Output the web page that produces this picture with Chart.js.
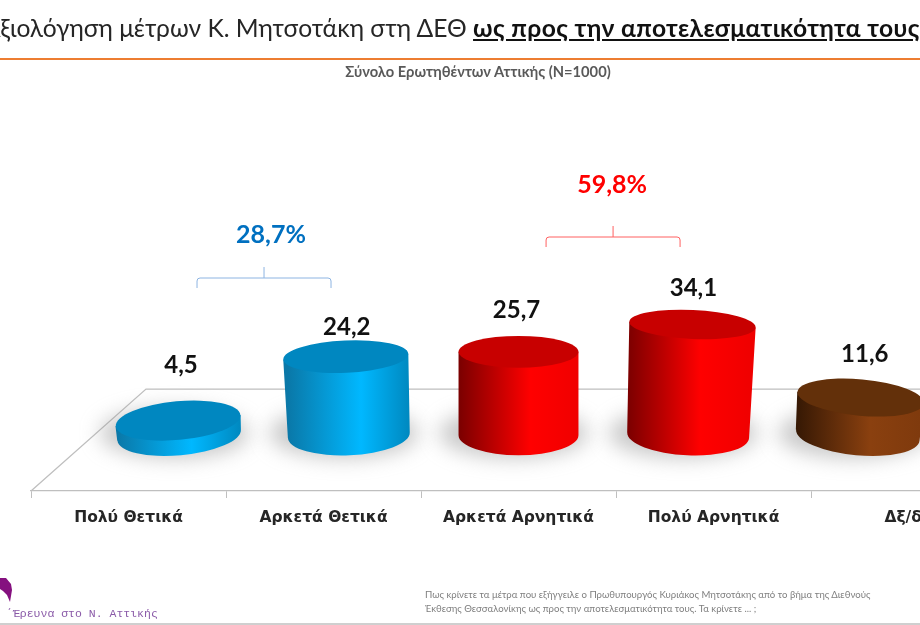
<!DOCTYPE html>
<html lang="el">
<head>
<meta charset="utf-8">
<style>
html,body{margin:0;padding:0;background:#fff;width:920px;height:625px;overflow:hidden}
#page{position:relative;width:920px;height:625px;overflow:hidden}
canvas{position:absolute;left:0;top:0}
.t{position:absolute;white-space:nowrap}
#title{left:-16px;top:13px;font:400 24.6px Lato,"Noto Sans",sans-serif;color:#262626}
#title b{font-weight:700;text-decoration:underline;color:#111;letter-spacing:.4px}
#rule{position:absolute;left:0;top:58px;width:920px;height:2px;background:#ed7d31}
#sub{left:0;width:956px;text-align:center;top:62px;font:700 14.7px Lato,"Noto Sans",sans-serif;color:#595959}
#foot{left:425px;top:588px;font:400 9.6px/13.5px Lato,"Noto Sans",sans-serif;color:#7f7f7f}
#brand{left:6px;top:607px;font:400 11.5px "Liberation Mono","DejaVu Sans Mono",monospace;color:#8a5aa8}
#base{position:absolute;left:0;top:623px;width:920px;height:2px;background:#cfcfcf}
#logo{position:absolute;left:0;top:576px}
</style>
</head>
<body>
<div id="page">
<canvas id="c" width="1040" height="625" style="width:1040px;height:625px"></canvas>
<div class="t" id="title">Αξιολόγηση μέτρων Κ. Μητσοτάκη στη ΔΕΘ <b>ως προς την αποτελεσματικότητα τους</b></div>
<div id="rule"></div>
<div class="t" id="sub">Σύνολο Ερωτηθέντων Αττικής (Ν=1000)</div>
<svg id="logo" width="14" height="28"><path d="M0 2 L6 2 L11 8 L12 14 L11 20 L10 26 L7 19 L3 15 L0 13 Z" fill="#85107f"/></svg>
<div class="t" id="brand">΄Έρευνα στο Ν. Αττικής</div>
<div class="t" id="foot">Πως κρίνετε τα μέτρα που εξήγγειλε ο Πρωθυπουργός Κυριάκος Μητσοτάκης από το βήμα της Διεθνούς<br>Έκθεσης Θεσσαλονίκης ως προς την αποτελεσματικότητα τους. Τα κρίνετε ... ;</div>
<div id="base"></div>
</div>
<script src="https://cdn.jsdelivr.net/npm/chart.js@4"></script>
<script>
const categories = ["Πολύ Θετικά","Αρκετά Θετικά","Αρκετά Αρνητικά","Πολύ Αρνητικά","Δξ/δα"];
const values = [4.5,24.2,25.7,34.1,11.6];
const valueLabels = ["4,5","24,2","25,7","34,1","11,6"];
const groupLabels = ["28,7%","59,8%"];

const sideColors = [
  ["#0a78a8","#00b8ff","#0088bf"],
  ["#0a78a8","#00b8ff","#0088bf"],
  ["#7a0000","#ff0000","#f00000"],
  ["#7a0000","#ff0000","#f00000"],
  ["#351804","#8a400f","#7f3a0d"]
];
const topColors = ["#0087c0","#0087c0","#c80000","#c80000","#63300a"];
const labelNudgeX = [2,0,-3,0,3];
const labelNudgeY = [-14,9,-4,0,-3];
const FOCUS = 0.87, BACK_VALUE = 14.2;

const cylinders = {
  id:"cylinders",
  beforeDatasetsDraw(chart){
    const {ctx,chartArea:a,scales:{x,y}} = chart;
    const back = y.getPixelForValue(BACK_VALUE);
    ctx.save();
    ctx.strokeStyle="#bfbfbf"; ctx.lineWidth=1.3;
    ctx.beginPath();
    ctx.moveTo(a.left,a.bottom); ctx.lineTo(a.left+115,back); ctx.lineTo(a.right,back);
    ctx.stroke();
    const meta = chart.getDatasetMeta(0), mid = x.getPixelForValue(2);
    ctx.filter="blur(10px)"; ctx.fillStyle="rgba(150,150,150,.52)";
    meta.data.forEach(el=>{
      const cx = mid+(el.x-mid)*FOCUS-5;
      ctx.beginPath(); ctx.ellipse(cx,el.base-2,el.width*0.62,25,0,0,Math.PI*2); ctx.fill();
    });
    ctx.restore();
  },
  afterDatasetsDraw(chart){
    const {ctx,scales:{x}} = chart;
    const meta = chart.getDatasetMeta(0), mid = x.getPixelForValue(2), step = x.getPixelForValue(1)-x.getPixelForValue(0);
    meta.data.forEach((el,i)=>{
      const dx = el.x-mid, h = el.base-el.y;
      const cb = mid+dx*FOCUS, ct = mid+dx*(FOCUS+h*0.0002);
      const wb = el.width+Math.abs(dx)/step*2, wt = wb+h*0.04*Math.abs(dx)/step;
      const ryOf = yy=>14.5+(yy-324)*0.05;
      const rb = ryOf(el.base), rt = ryOf(el.y);
      const rot = dx/step*2.6*Math.PI/180;
      const g = ctx.createLinearGradient(cb-wb/2,0,cb+wb/2,0);
      const c = sideColors[i];
      g.addColorStop(0,c[0]); g.addColorStop(.6,c[1]); g.addColorStop(1,c[2]);
      ctx.fillStyle=g;
      ctx.beginPath();
      ctx.moveTo(ct-wt/2,el.y-Math.sin(rot)*wt/2);
      ctx.lineTo(cb-wb/2,el.base-Math.sin(rot)*wb/2);
      ctx.ellipse(cb,el.base,wb/2,rb,rot,Math.PI,0,true);
      ctx.lineTo(ct+wt/2,el.y+Math.sin(rot)*wt/2);
      ctx.closePath(); ctx.fill();
      ctx.fillStyle=topColors[i];
      ctx.beginPath(); ctx.ellipse(ct,el.y,wt/2,rt,rot,0,Math.PI*2); ctx.fill();
      ctx.fillStyle="#111"; ctx.font='700 24px Lato,"Noto Sans",sans-serif';
      ctx.textAlign="center"; ctx.textBaseline="middle";
      ctx.fillText(valueLabels[i],ct+1+labelNudgeX[i],el.y-rt-22+labelNudgeY[i]);
    });
    const bracket = (m,lineColor,textColor,text,barY,textDx,textY)=>{
      const x0 = m-67, x1 = m+67;
      ctx.save();
      ctx.strokeStyle=lineColor; ctx.lineWidth=1;
      ctx.beginPath();
      ctx.moveTo(x0,barY+10); ctx.lineTo(x0,barY+3); ctx.quadraticCurveTo(x0,barY,x0+3,barY);
      ctx.lineTo(m,barY); ctx.lineTo(m,barY-11); ctx.moveTo(m,barY);
      ctx.lineTo(x1-3,barY); ctx.quadraticCurveTo(x1,barY,x1,barY+3); ctx.lineTo(x1,barY+10);
      ctx.stroke();
      ctx.fillStyle=textColor;
      ctx.font='700 25px Lato,"Noto Sans",sans-serif';
      ctx.textAlign="center"; ctx.textBaseline="middle";
      ctx.fillText(text,m+textDx,textY);
      ctx.restore();
    };
    const edge01 = (x.getPixelForValue(0)+x.getPixelForValue(1))/2;
    const edge23 = (x.getPixelForValue(2)+x.getPixelForValue(3))/2;
    bracket(mid+(edge01-mid)*0.87,"#8db4e2","#0070c0",groupLabels[0],278,7,235);
    bracket(mid+(edge23-mid)*0.97,"#ff6060","#ff0000",groupLabels[1],237,-1,185);
  }
};

new Chart(document.getElementById("c"),{
  type:"bar",
  data:{labels:categories,datasets:[{data:values,backgroundColor:"rgba(0,0,0,0)",borderWidth:0,barPercentage:.615,categoryPercentage:1}]},
  plugins:[cylinders],
  options:{
    responsive:false,animation:false,
    layout:{padding:{left:31,right:34,top:62,bottom:0}},
    plugins:{legend:{display:false},title:{display:false},tooltip:{enabled:false}},
    scales:{
      x:{
        afterFit(s){s.height=134;},
        border:{color:"#bfbfbf",width:1.3},
        grid:{drawOnChartArea:false,color:"#bfbfbf",tickLength:7},
        ticks:{color:"#262626",font:{family:"'DejaVu Sans'",weight:"700",size:15.5},maxRotation:0,autoSkip:false,padding:11}
      },
      y:{display:false,min:-17.2,max:115}
    }
  }
});
</script>
</body>
</html>
